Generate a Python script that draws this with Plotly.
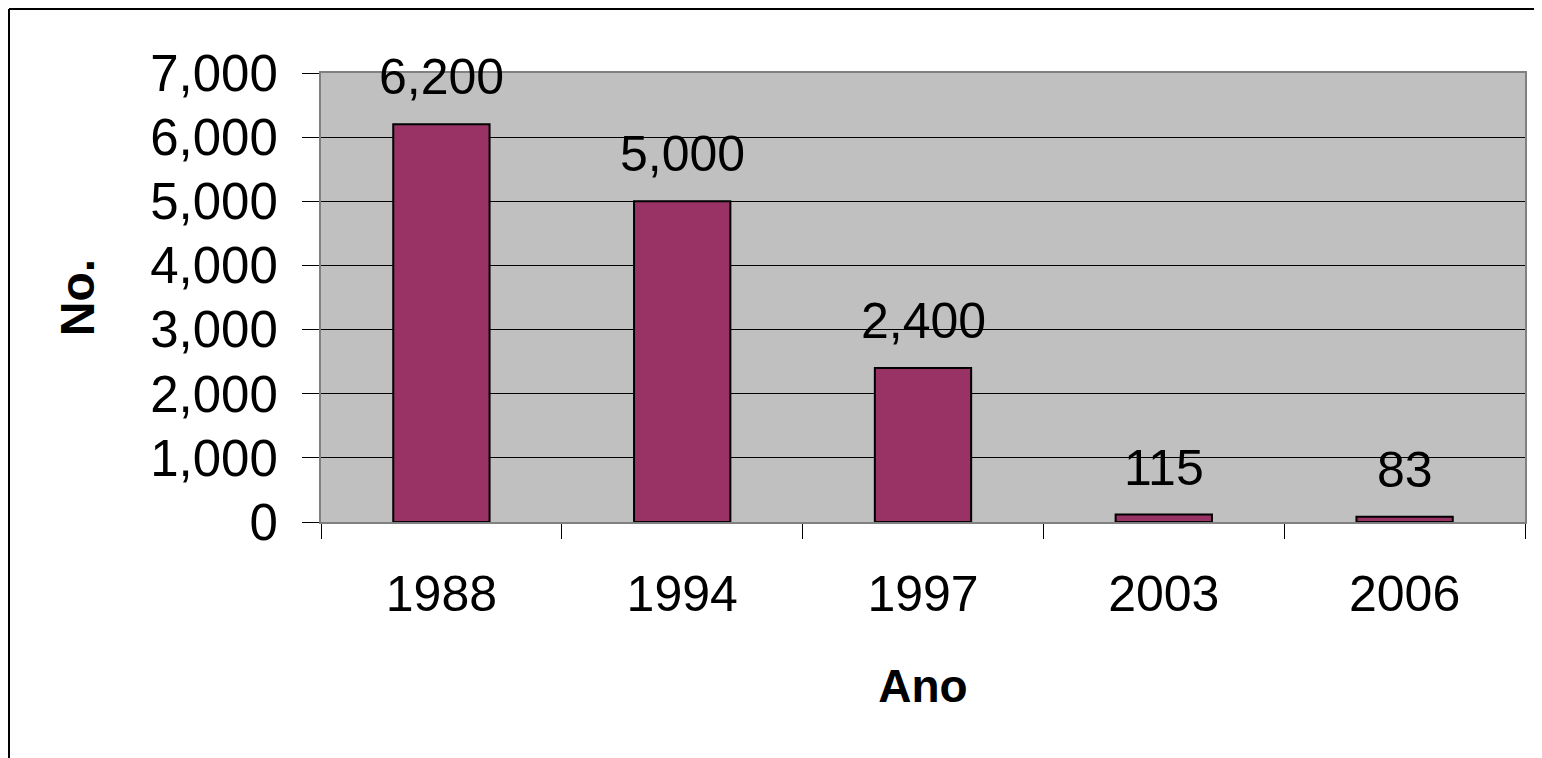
import plotly.graph_objects as go

anos = ["1988", "1994", "1997", "2003", "2006"]
numeros = [6200, 5000, 2400, 115, 83]
rotulos = ["6,200", "5,000", "2,400", "115", "83"]

W, H = 1542, 758
L, R, T, B = 313, 25, 65, 244
fonte = "Liberation Sans, Arial, sans-serif"

fig = go.Figure()
fig.add_trace(go.Bar(
    x=anos,
    y=numeros,
    marker=dict(color="#993366", line=dict(color="black", width=2)),
    showlegend=False,
    hoverinfo="skip",
))

# rotulos de dados acima das barras (x pelo indice da categoria)
for i, (v, t) in enumerate(zip(numeros, rotulos)):
    fig.add_annotation(
        x=i, y=v, text=t, showarrow=False,
        yanchor="bottom", yshift=17,
        font=dict(family=fonte, size=50, color="black"),
    )

# moldura externa do grafico (so esquerda e topo aparecem)
pw = W - L - R
ph = H - T - B
xe = (1 - L) / pw
yt = (H - 1 - B) / ph
fig.add_shape(type="line", xref="paper", yref="paper",
              x0=xe, x1=xe, y0=-B / ph - 0.1, y1=yt,
              line=dict(color="black", width=2))
fig.add_shape(type="line", xref="paper", yref="paper",
              x0=xe, x1=(W + 40 - L) / pw, y0=yt, y1=yt,
              line=dict(color="black", width=2))

fig.update_layout(
    width=W, height=H,
    margin=dict(l=L, r=R, t=T, b=B, pad=0, autoexpand=False),
    paper_bgcolor="white",
    plot_bgcolor="#C0C0C0",
    bargap=0.6,
    font=dict(family=fonte, size=50, color="black"),
    xaxis=dict(
        type="category",
        range=[-0.5, len(anos) - 0.5],
        tickson="boundaries",
        ticks="outside", ticklen=15, tickwidth=1, tickcolor="black",
        tickangle=0,
        ticklabelstandoff=27,
        showline=True, linecolor="#808080", linewidth=2, mirror=True,
        showgrid=False,
        tickfont=dict(size=50),
        title=dict(text="<b>Ano</b>", font=dict(size=46), standoff=49),
    ),
    yaxis=dict(
        range=[0, 7000],
        dtick=1000,
        tickformat=",d",
        ticks="outside", ticklen=17, tickwidth=1, tickcolor="black",
        ticklabelstandoff=14,
        showline=True, linecolor="#808080", linewidth=2, mirror=True,
        showgrid=True, gridcolor="black", gridwidth=1,
        zeroline=False,
        tickfont=dict(size=51),
        title=dict(text="<b>No.</b>", font=dict(size=48), standoff=40),
    ),
)

fig.write_html("out.html")
